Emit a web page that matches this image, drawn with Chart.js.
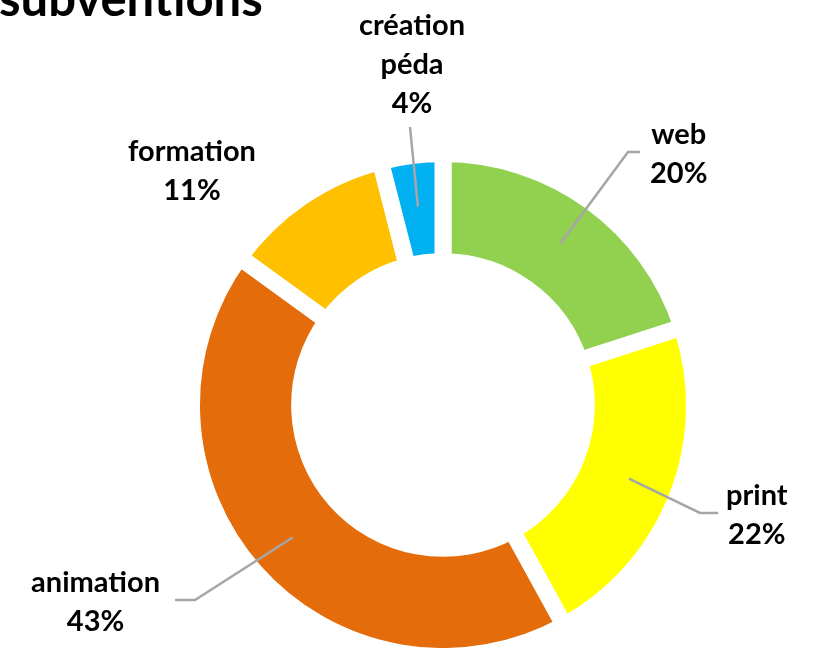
<!DOCTYPE html>
<html>
<head>
    <meta charset="utf-8">
    <title>subventions</title>
    <script src="https://cdn.jsdelivr.net/npm/chart.js@4.4.1/dist/chart.umd.min.js"></script>
    <style>
        html, body { margin: 0; padding: 0; background: #fff; }
        #wrap { width: 823px; height: 648px; }
    </style>
</head>
<body>
<div id="wrap"><canvas id="donut" width="823" height="648"></canvas></div>
<script>
    // data
    const categories = ['web', 'print', 'animation', 'formation', 'création\npéda'];
    const shares = [20, 22, 43, 11, 4];
    const colours = ['#92D050', '#FFFF00', '#E46C0A', '#FFC000', '#00B0F0'];

    // label placement relative to the doughnut centre: elbow point, tail length
    const labelLayout = [
        {dx: 185, dy: -253, tail: 12, side: 1, gap: 10},
        {dx: 257, dy: 108, tail: 18, side: 1, gap: 8},
        {dx: -248, dy: 195, tail: 20, side: -1, gap: 15},
        {dx: -251, dy: -234, noLine: true},
        {dx: -33, dy: -278, above: true}
    ];

    const FONT = 'Lato, "Open Sans", sans-serif';

    const labelPlugin = {
        id: 'leaderLabels',
        afterDraw(chart) {
            const ctx = chart.ctx;
            const arcs = chart.getDatasetMeta(0).data;
            ctx.save();
            // title, cut off at the top like the original
            ctx.fillStyle = '#000';
            ctx.font = 'bold 49px ' + FONT;
            ctx.textAlign = 'left';
            ctx.textBaseline = 'alphabetic';
            ctx.fillText('subventions', -1, 16);

            ctx.font = 'bold 29px ' + FONT;
            const lineH = 39;
            arcs.forEach(function(arc, i) {
                const lay = labelLayout[i];
                const mid = (arc.startAngle + arc.endAngle) / 2;
                const cx = arc.x, cy = arc.y;
                const sx = cx + Math.cos(mid) * 200, sy = cy + Math.sin(mid) * 200;
                const ex = cx + lay.dx, ey = cy + lay.dy;
                const lines = categories[i].split('\n').concat([shares[i] + '%']);

                if (!lay.noLine) {
                    ctx.strokeStyle = '#A6A6A6';
                    ctx.lineWidth = 2.5;
                    ctx.beginPath();
                    ctx.moveTo(sx, sy);
                    ctx.lineTo(ex, ey);
                    if (lay.tail) ctx.lineTo(ex + lay.side * lay.tail, ey);
                    ctx.stroke();
                }

                let w = 0;
                lines.forEach(function(t) { w = Math.max(w, ctx.measureText(t).width); });
                let tx, ty;
                if (lay.above) {
                    tx = ex + 2;
                    ty = ey - 4 - lines.length * lineH / 2;
                } else if (lay.noLine) {
                    tx = ex; ty = ey;
                } else {
                    tx = ex + lay.side * (lay.tail + lay.gap + w / 2);
                    ty = ey + 2;
                }
                ctx.fillStyle = '#000';
                ctx.textAlign = 'center';
                ctx.textBaseline = 'middle';
                lines.forEach(function(t, k) {
                    ctx.fillText(t, tx, ty + (k - (lines.length - 1) / 2) * lineH);
                });
            });
            ctx.restore();
        }
    };

    new Chart('donut', {
        type: 'doughnut',
        data: {
            labels: categories,
            datasets: [{
                data: shares,
                backgroundColor: colours,
                borderColor: '#ffffff',
                borderWidth: 17
            }]
        },
        options: {
            responsive: false,
            animation: false,
            radius: 251.5,
            cutout: '57%',
            layout: {padding: {top: 162, bottom: 0, left: 104, right: 41}},
            plugins: {
                legend: {display: false},
                tooltip: {enabled: false},
                title: {display: false}
            }
        },
        plugins: [labelPlugin]
    });
</script>
</body>
</html>
